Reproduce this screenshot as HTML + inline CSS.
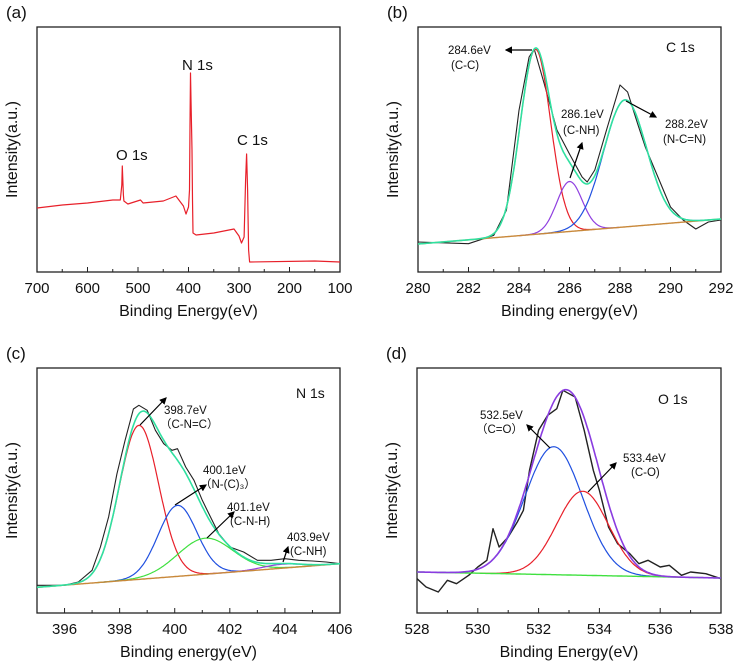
<!DOCTYPE html>
<html><head><meta charset="utf-8"><style>
html,body{margin:0;padding:0;background:#fff;}
svg{display:block;font-family:"Liberation Sans",sans-serif;}
</style></head><body>
<svg id="fig" width="737" height="664" viewBox="0 0 737 664">
<defs><marker id="ah" markerWidth="6" markerHeight="6" refX="5" refY="3" orient="auto"><path d="M0,0 L6,3 L0,6 z" fill="#000"/></marker></defs>
</svg>
<script>
// ---- Panel (a) survey ----
const aEnergy=[700,650,600,550,535,532,531,529,528,520,495,490,450,425,410,405,400,398,397,396,395,393,392,391,385,350,310,300,295,290,287,285,283,281,279,150,100];
const aIntensity=[64,67,69,72,72,87,106,77,71,68,72,69,71,76,66,58,65,82,147,199,172,122,72,39,37,39,43,36,29,35,92,118,82,22,10,11,10];
const aTicks=[700,600,500,400,300,200,100];
// ---- Panel (b) C 1s ----
const bEnergy=[280,282,283,283.5,284,284.4,284.6,285,285.5,286,286.5,286.7,287,287.5,288,288.3,288.7,289,289.5,290,290.5,291,291.5,292];
const bIntensity=[30,28.3,36.7,61.7,161.7,215,223,188,142,118,95,90,102,145,187,180,148,125,95,65,52,43,50,52];
const bCenters=[284.65,286.0,288.2];
const bHeights=[185,50,127];
const bSigmas=[0.6,0.5,0.85];
const bBaseline=[28,53];
const bTicks=[280,282,284,286,288,290,292];
// ---- Panel (c) N 1s ----
const cEnergy=[395,396,396.5,397,397.3,397.6,397.9,398.2,398.5,398.7,399,399.3,399.6,399.9,400.1,400.4,400.7,401,401.3,401.6,402,402.5,403,403.5,404,404.5,405,405.5,406];
const cIntensity=[27.7,27.7,31,42.7,66,96,139,172.7,204,207.7,202.7,182.7,169.3,162.7,164.3,146,132.7,112.7,96,79.3,66,61,52.7,52.7,54.3,52.7,52,51,49.3];
const cCenters=[398.7,400.1,401.1,403.9];
const cHeights=[154,71,36,4];
const cSigmas=[0.72,0.7,1.0,0.7];
const cBaseline=[25.7,49.3];
const cTicks=[396,398,400,402,404,406];
// ---- Panel (d) O 1s ----
const dEnergy=[528,528.3,528.7,529,529.3,529.7,530,530.3,530.5,530.7,531,531.3,531.5,531.7,532,532.3,532.6,532.8,533,533.2,533.5,533.8,534,534.3,534.6,535,535.3,535.6,536,536.3,536.7,537,537.5,538];
const dIntensity=[34.3,26,21,32.7,29.3,37.7,46,52.7,84.3,66,76,91,102.7,142.7,182.7,197.7,204.3,222.7,219.3,216,182.7,142.7,122.7,86,69.3,59.3,49.3,52.7,46,47.7,37.7,41,39.3,34.3];
const dCenters=[532.5,533.45];
const dHeights=[128,84];
const dSigmas=[0.95,0.85];
const dBaseline=[41,35];
const dTicks=[528,530,532,534,536,538];

const NS="http://www.w3.org/2000/svg";
const svg=document.getElementById('fig');
function mk(tag,attrs,parent){const e=document.createElementNS(NS,tag);for(const k in attrs)e.setAttribute(k,attrs[k]);(parent||svg).appendChild(e);return e;}
function txt(x,y,s,size,anchor,parent){const t=mk('text',{x:x,y:y,'font-size':size,'text-anchor':anchor||'start',fill:'#111'},parent);t.textContent=s;return t;}

function panel(p){
  const g=mk('g',{});
  
  
  const W=p.x1-p.x0;
  const xs=e=>p.rev? p.x0+(p.xmax-e)/(p.xmax-p.xmin)*W : p.x0+(e-p.xmin)/(p.xmax-p.xmin)*W;
  const ys=v=>p.y1-v*(p.y1-p.y0)/245;
  p.xs=xs;p.ys=ys;
  const fr=mk('rect',{x:p.x0,y:p.y0,width:W,height:p.y1-p.y0,fill:'none',stroke:'#222','stroke-width':1.3},g);
  
  
  const step=p.ticks[1]-p.ticks[0];
  for(let i=0;i<p.ticks.length;i++){
    const t=p.ticks[i];const x=xs(t);
    mk('line',{x1:x,y1:p.y1,x2:x,y2:p.y1-5,stroke:'#222','stroke-width':1},g);
    const lb=txt(x,p.y1+21,String(t),15,'middle',g);
    
    
    if(i<p.ticks.length-1){const xm=xs(t+step/2);mk('line',{x1:xm,y1:p.y1,x2:xm,y2:p.y1-3,stroke:'#222','stroke-width':1},g);}
  }
  const xt=txt((p.x0+p.x1)/2,p.y1+44,p.xtitle,16,'middle',g);
  
  
  const yx=p.x0-20, yy=(p.y0+p.y1)/2;
  const yt=mk('text',{x:yx,y:yy,'font-size':16,'text-anchor':'middle',fill:'#111',transform:`rotate(-90 ${yx} ${yy})`},g);
  yt.textContent='Intensity(a.u.)';
  
  
  const pl=txt(p.x0-31,p.y0-9,p.label,17,'start',g);
  
  
  return g;
}
function line(p,g,E,I,color,name,w){
  let d='';for(let i=0;i<E.length;i++)d+=(i?'L':'M')+p.xs(E[i]).toFixed(1)+','+p.ys(I[i]).toFixed(1);
  const e=mk('path',{d:d,fill:'none',stroke:color,'stroke-width':w||1.2,'stroke-linejoin':'round'},g);
  
  
}
function base(p,B,e){return B[0]+(B[1]-B[0])*(e-p.xmin)/(p.xmax-p.xmin);}
function gauss(e,c,h,s){return h*Math.exp(-(e-c)*(e-c)/(2*s*s));}
function fits(p,g,C,H,S,B,colors,fitColor,baseColor,from){
  const grid=[];for(let e=from;e<=p.xmax+1e-9;e+=(p.xmax-p.xmin)/300)grid.push(e);
  for(let k=0;k<C.length;k++){
    const I=grid.map(e=>base(p,B,e)+gauss(e,C[k],H[k],S[k]));
    const pts=grid.map((e,i)=>[e,I[i]]).filter((q,i)=>Math.abs(q[0]-C[k])<S[k]*4);
    line(p,g,pts.map(q=>q[0]),pts.map(q=>q[1]),colors[k],'component-peak-'+(k+1),1.2);
  }
  line(p,g,grid,grid.map(e=>base(p,B,e)),baseColor,'baseline',1.4);
  line(p,g,grid,grid.map(e=>{let v=base(p,B,e);for(let k=0;k<C.length;k++)v+=gauss(e,C[k],H[k],S[k]);return v;}),fitColor,'fit-envelope',1.6);
}
function ann(g,x,y,s,size,name){const t=txt(x,y,s,size||12,'start',g);return t;}
function arrow(g,x1,y1,x2,y2){const l=mk('line',{x1:x1,y1:y1,x2:x2,y2:y2,stroke:'#000','stroke-width':1.2,'marker-end':'url(#ah)'},g);}

// (a)
const pa={name:'panel-a-survey',x0:37,x1:340,y0:27,y1:272,xmin:100,xmax:700,rev:true,ticks:aTicks,xtitle:'Binding Energy(eV)',label:'(a)'};
const ga=panel(pa);
line(pa,ga,aEnergy,aIntensity,'#e8202a','survey-spectrum',1.2);
ann(ga,182,70,'N 1s',15,'peak-label-n1s');ann(ga,116,160,'O 1s',15,'peak-label-o1s');ann(ga,237,145,'C 1s',15,'peak-label-c1s');

// (b)
const pb={name:'panel-b-c1s',x0:418,x1:721,y0:27,y1:272,xmin:280,xmax:292,ticks:bTicks,xtitle:'Binding energy(eV)',label:'(b)'};
const gb=panel(pb);
line(pb,gb,bEnergy,bIntensity,'#222','c1s-raw-data',1.1);
fits(pb,gb,bCenters,bHeights,bSigmas,bBaseline,['#e8202a','#9040e0','#2050e0'],'#30e0a0','#c8883a',280);
ann(gb,666,52,'C 1s',14,'spectrum-title');
ann(gb,448,54,'284.6eV',11.5,'peak-annotation');ann(gb,451,69,'(C-C)',11.5,'peak-annotation');arrow(gb,532,50,506,50);
ann(gb,561,118,'286.1eV',11.5,'peak-annotation');ann(gb,563,134,'(C-NH)',11.5,'peak-annotation');arrow(gb,570,178,582,143);
ann(gb,665,128,'288.2eV',11.5,'peak-annotation');ann(gb,663,143,'(N-C=N)',11.5,'peak-annotation');arrow(gb,626,101,656,117);

// (c)
const pc={name:'panel-c-n1s',x0:37,x1:340,y0:368,y1:613,xmin:395,xmax:406,ticks:cTicks,xtitle:'Binding energy(eV)',label:'(c)'};
const gc=panel(pc);
line(pc,gc,cEnergy,cIntensity,'#222','n1s-raw-data',1.1);
fits(pc,gc,cCenters,cHeights,cSigmas,cBaseline,['#e8202a','#2050e0','#40e040','#9040e0'],'#30e0a0','#c8883a',395);
ann(gc,296,398,'N 1s',14,'spectrum-title');
ann(gc,164,414,'398.7eV',11.5,'peak-annotation');ann(gc,160,428,'（C-N=C）',11.5,'peak-annotation');arrow(gc,140,425,166,398);
ann(gc,203,474,'400.1eV',11.5,'peak-annotation');ann(gc,200,488,'（N-(C)₃）',11.5,'peak-annotation');arrow(gc,175,505,206,485);
ann(gc,227,511,'401.1eV',11.5,'peak-annotation');ann(gc,230,525,'(C-N-H)',11.5,'peak-annotation');arrow(gc,207,538,234,512);
ann(gc,287,541,'403.9eV',11.5,'peak-annotation');ann(gc,290,555,'(C-NH)',11.5,'peak-annotation');arrow(gc,283,562,288,547);

// (d)
const pd={name:'panel-d-o1s',x0:417,x1:721,y0:368,y1:613,xmin:528,xmax:538,ticks:dTicks,xtitle:'Binding Energy(eV)',label:'(d)'};
const gd=panel(pd);
line(pd,gd,dEnergy,dIntensity,'#222','o1s-raw-data',1.4);
fits(pd,gd,dCenters,dHeights,dSigmas,dBaseline,['#2050e0','#e8202a'],'#8a3ce0','#40e040',528);
ann(gd,658,404,'O 1s',14,'spectrum-title');
ann(gd,480,419,'532.5eV',11.5,'peak-annotation');ann(gd,476,433,'（C=O）',11.5,'peak-annotation');arrow(gd,550,448,527,425);
ann(gd,623,462,'533.4eV',11.5,'peak-annotation');ann(gd,631,476,'(C-O)',11.5,'peak-annotation');arrow(gd,588,492,616,463);
</script>
</body></html>
